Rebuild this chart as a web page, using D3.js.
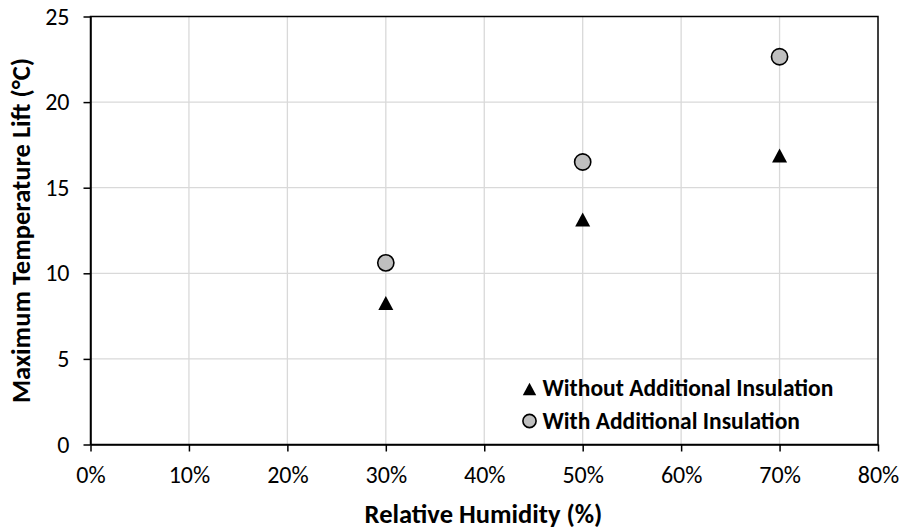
<!DOCTYPE html>
<html><head><meta charset="utf-8">
<script src="https://cdn.jsdelivr.net/npm/d3@7"></script>
<style>body{margin:0;background:#fff}svg{display:block}text{font-family:Carlito,Calibri,Lato,sans-serif}</style>
</head><body>
<svg id="c" width="902" height="531"></svg>
<script>
const humidity = [30, 50, 70];
const withoutIns = [8.27, 13.14, 16.88];
const withIns = [10.61, 16.50, 22.65];
const xTicks = [0,10,20,30,40,50,60,70,80];
const yTicks = [0,5,10,15,20,25];
const seriesNames = ["Without Additional Insulation","With Additional Insulation"];
const xTitle = "Relative Humidity (%)";
const yTitle = "Maximum Temperature Lift (°C)";

const svg = d3.select("#c");
const m = {l:90.5, r:878, t:16.5, b:444.5};
const x = d3.scaleLinear().domain([0,80]).range([m.l, m.r]);
const y = d3.scaleLinear().domain([0,25]).range([m.b, m.t]);

// helper: font size so that text advance matches a target width
function fitSize(txt, target, weight){
  const t = svg.append("text").attr("font-size",100).attr("font-weight",weight).text(txt);
  const w = t.node().getComputedTextLength(); t.remove();
  return 100*target/w;
}
const tickFS = fitSize("10%", 41.5, "normal");
const titleFS = fitSize(xTitle, 238, "bold");
const legFS = fitSize(seriesNames[0], 291, "bold");

// custom triangle centered on its bounding box
const triType = {draw(ctx, size){ const w=Math.sqrt(size), h=w*0.93;
  ctx.moveTo(0,-h/2); ctx.lineTo(w/2,h/2); ctx.lineTo(-w/2,h/2); ctx.closePath(); }};

// grid
svg.append("g").selectAll("line").data(xTicks.slice(1,-1)).join("line")
  .attr("x1",d=>x(d)).attr("x2",d=>x(d)).attr("y1",m.t).attr("y2",m.b)
  .attr("stroke","#d9d9d9").attr("stroke-width",1.3);
svg.append("g").selectAll("line").data(yTicks.slice(1,-1)).join("line")
  .attr("y1",d=>y(d)).attr("y2",d=>y(d)).attr("x1",m.l).attr("x2",m.r)
  .attr("stroke","#d9d9d9").attr("stroke-width",1.3);

// frame
svg.append("rect").attr("x",m.l).attr("y",m.t).attr("width",m.r-m.l).attr("height",m.b-m.t)
  .attr("fill","none").attr("stroke","#000").attr("stroke-width",1.5);

// axes
const xa = svg.append("g").attr("transform",`translate(0,${m.b})`)
  .call(d3.axisBottom(x).tickValues(xTicks).tickFormat(d=>d+"%").tickSize(7).tickSizeOuter(0).tickPadding(14.5));
const ya = svg.append("g").attr("transform",`translate(${m.l},0)`)
  .call(d3.axisLeft(y).tickValues(yTicks).tickSize(7).tickSizeOuter(0).tickPadding(14));
[xa,ya].forEach(a=>{
  a.select(".domain").attr("stroke","#000").attr("stroke-width",1.5);
  a.selectAll(".tick line").attr("stroke","#000").attr("stroke-width",1.5);
  a.selectAll(".tick text").attr("font-size",tickFS).attr("fill","#000")
   .style("font-family",'Carlito,Calibri,Lato,sans-serif');
});

// markers
svg.append("g").selectAll("path").data(humidity).join("path")
  .attr("d",d3.symbol().type(triType).size(225))
  .attr("transform",(d,i)=>`translate(${x(d)},${y(withoutIns[i])})`).attr("fill","#000");
svg.append("g").selectAll("circle").data(humidity).join("circle")
  .attr("cx",d=>x(d)).attr("cy",(d,i)=>y(withIns[i])).attr("r",8.1)
  .attr("fill","#bfbfbf").attr("stroke","#000").attr("stroke-width",1.6);

// legend
const lg = svg.append("g");
lg.append("path").attr("d",d3.symbol().type(triType).size(180)).attr("transform","translate(529.5,389)").attr("fill","#000");
lg.append("circle").attr("cx",529.5).attr("cy",421).attr("r",6.6).attr("fill","#bfbfbf").attr("stroke","#000").attr("stroke-width",1.6);
lg.append("text").attr("x",542.5).attr("y",396).attr("font-size",legFS).attr("font-weight","bold").text(seriesNames[0]);
lg.append("text").attr("x",542.5).attr("y",428.5).attr("font-size",legFS).attr("font-weight","bold").text(seriesNames[1]);

// titles
svg.append("text").attr("x",483.5).attr("y",522.5).attr("text-anchor","middle")
  .attr("font-size",titleFS).attr("font-weight","bold").text(xTitle);
svg.append("text").attr("transform",`translate(30,${(m.t+m.b)/2}) rotate(-90)`).attr("text-anchor","middle")
  .attr("font-size",titleFS).attr("font-weight","bold").text(yTitle);
</script>
</body></html>
